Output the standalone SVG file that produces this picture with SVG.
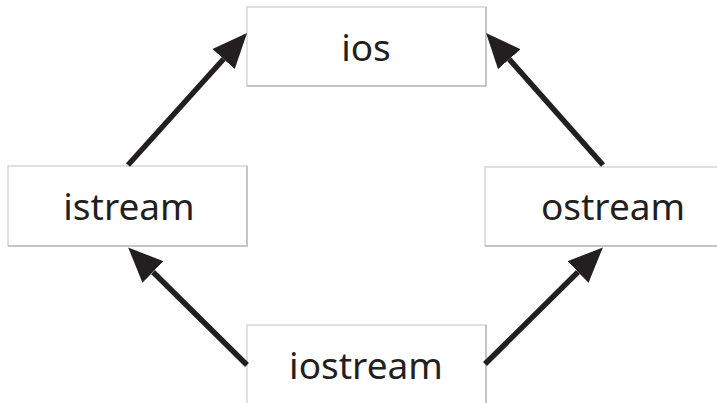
<svg xmlns="http://www.w3.org/2000/svg" width="717" height="403" viewBox="0 0 717 403">
  <style>
    .box { fill: #ffffff; stroke: #d6d6d6; stroke-width: 1.5; }
    .shade { fill: none; stroke: #bdbdbd; stroke-width: 1.5; }
    .label { font-family: "Noto Sans", "Open Sans", sans-serif; font-size: 37px; fill: #231f20; text-anchor: middle; }
    .arrow { stroke: #231f20; stroke-width: 5.5; fill: none; marker-end: url(#head); }
  </style>
  <defs>
    <marker id="head" markerUnits="userSpaceOnUse" viewBox="0 -16 36 32" markerWidth="36" markerHeight="32" refX="0" refY="0" orient="auto">
      <path d="M0,-15 L35,0 L0,15 z" fill="#231f20"/>
    </marker>
  </defs>

  <g id="node-ios">
    <rect class="box" x="247" y="7" width="239" height="79"/>
    <polyline class="shade" points="247,86 486,86 486,7"/>
    <text class="label" x="366" y="61">ios</text>
  </g>
  <g id="node-istream">
    <rect class="box" x="8" y="166" width="239" height="80"/>
    <polyline class="shade" points="8,246 247,246 247,166"/>
    <text class="label" x="129" y="220">istream</text>
  </g>
  <g id="node-ostream">
    <rect class="box" x="485" y="167" width="240" height="79"/>
    <polyline class="shade" points="485,246 725,246"/>
    <text class="label" x="613" y="220">ostream</text>
  </g>
  <g id="node-iostream">
    <rect class="box" x="247" y="325" width="239" height="90"/>
    <polyline class="shade" points="486,325 486,415"/>
    <text class="label" x="366" y="379">iostream</text>
  </g>

  <g id="connectors">
    <line class="arrow" x1="128" y1="165" x2="223.6" y2="59"/>
    <line class="arrow" x1="603" y1="165" x2="509.3" y2="59.2"/>
    <line class="arrow" x1="247" y1="365" x2="153" y2="272"/>
    <line class="arrow" x1="485" y1="364" x2="578" y2="272"/>
  </g>
</svg>
